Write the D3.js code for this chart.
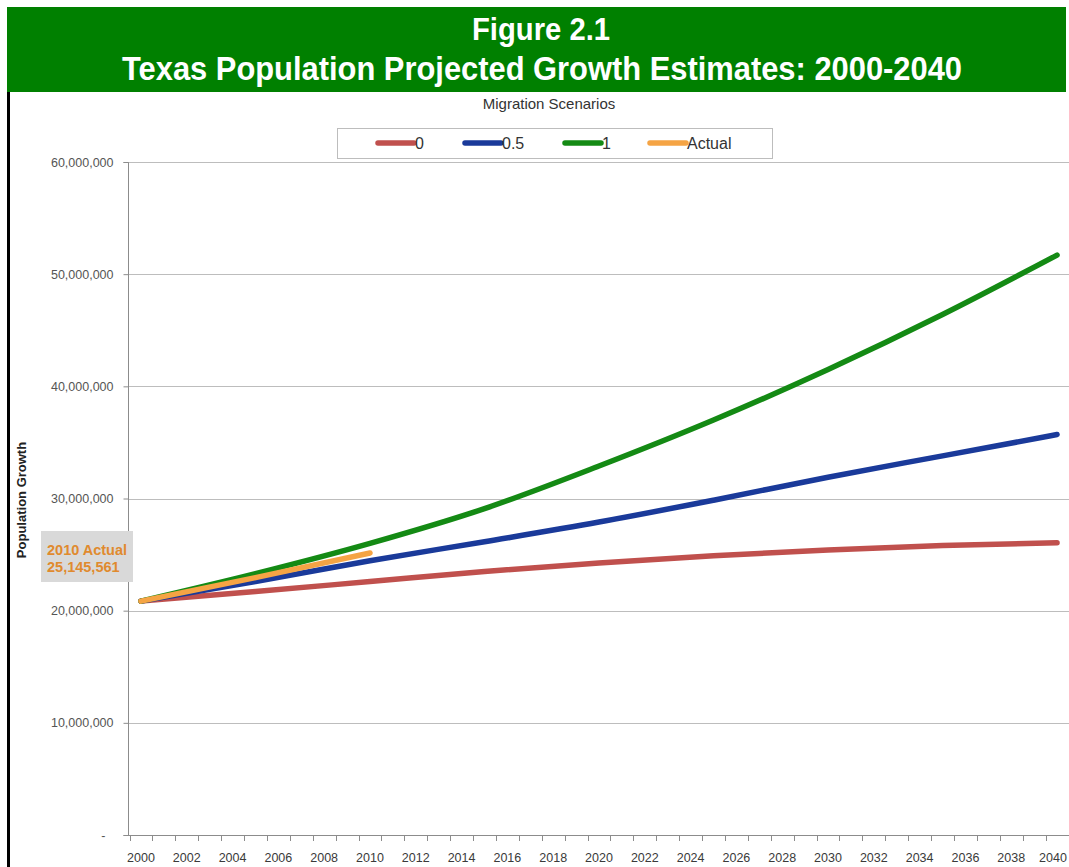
<!DOCTYPE html>
<html>
<head>
<meta charset="utf-8">
<script src="https://cdn.jsdelivr.net/npm/d3@7"></script>
<style>
  html, body { margin: 0; padding: 0; background: #fff; }
  svg { display: block; font-family: "Liberation Sans", Arial, sans-serif; }
</style>
</head>
<body>
<svg id="chart" width="1069" height="867"></svg>
<script>
// ---- Data ----
const years = d3.range(2000, 2041);              // category axis
const dataYears = [2000, 2005, 2010, 2015, 2020, 2025, 2030, 2035, 2040];
const scenario0  = [20851820, 21700000, 22600000, 23500000, 24250000, 24900000, 25400000, 25800000, 26050000];
const scenario05 = [20851820, 22600000, 24450000, 26150000, 27900000, 29850000, 31900000, 33800000, 35700000];
const scenario1  = [20851820, 23300000, 26000000, 29100000, 32900000, 37000000, 41500000, 46400000, 51700000];
const actualYears = [2000, 2005, 2010];
const actualValues = [20851820, 22950000, 25145561];
const yTicks = [0, 10000000, 20000000, 30000000, 40000000, 50000000, 60000000];
const xTickLabels = d3.range(2000, 2041, 2);
const seriesNames = ["0", "0.5", "1", "Actual"];
const seriesColors = ["#C0504D", "#1A3A9A", "#148A14", "#F5A444"];

const svg = d3.select("#chart");

// ---- Header ----
svg.append("rect").attr("x", 7).attr("y", 7).attr("width", 1059).attr("height", 85).attr("fill", "#008000");
svg.append("text").attr("x", 541).attr("y", 40).attr("text-anchor", "middle")
  .attr("fill", "#fff").attr("font-weight", "bold").attr("font-size", 31)
  .attr("textLength", 138).attr("lengthAdjust", "spacingAndGlyphs").text("Figure 2.1");
svg.append("text").attr("x", 542).attr("y", 80).attr("text-anchor", "middle")
  .attr("fill", "#fff").attr("font-weight", "bold").attr("font-size", 33)
  .attr("textLength", 840).attr("lengthAdjust", "spacingAndGlyphs")
  .text("Texas Population Projected Growth Estimates: 2000-2040");
// left border
svg.append("rect").attr("x", 7).attr("y", 92).attr("width", 3).attr("height", 775).attr("fill", "#000");

// ---- Scales ----
const x = d3.scaleBand().domain(years).range([129.5, 1068.5]).paddingInner(0).paddingOuter(0);
const xc = yr => x(yr) + x.bandwidth() / 2;
const y = d3.scaleLinear().domain([0, 60000000]).range([835, 162]);

// ---- Gridlines ----
svg.append("g").selectAll("line").data(yTicks.filter(d => d > 0)).join("line")
  .attr("x1", 128).attr("x2", 1069)
  .attr("y1", d => Math.round(y(d)) + 0.5).attr("y2", d => Math.round(y(d)) + 0.5)
  .attr("stroke", "#BDBDBD").attr("stroke-width", 1);

// ---- Y axis ----
const yAxis = d3.axisLeft(y).tickValues(yTicks).tickSize(5).tickPadding(10)
  .tickFormat(d => d === 0 ? "-" : d3.format(",")(d));
const gy = svg.append("g").attr("transform", "translate(128.5,0)").call(yAxis);
gy.select(".domain").attr("stroke", "#8C8C8C").attr("d", "M-5,162.5H0V835.5H-5");
gy.selectAll(".tick line").attr("stroke", "#8C8C8C");
gy.selectAll(".tick text").attr("font-size", 12.5).attr("fill", "#555")
  .attr("font-family", "Liberation Sans, Arial, sans-serif");
gy.selectAll(".tick").filter(d => d === 0).select("text").attr("dx", -8);

// ---- X axis ----
const gx = svg.append("g");
gx.append("line").attr("x1", 128).attr("x2", 1069).attr("y1", 835.5).attr("y2", 835.5).attr("stroke", "#8C8C8C");
gx.selectAll("line.tk").data(years).join("line").attr("class", "tk")
  .attr("x1", d => Math.round(x(d)) + 0.5).attr("x2", d => Math.round(x(d)) + 0.5)
  .attr("y1", 835).attr("y2", 841).attr("stroke", "#8C8C8C");
gx.selectAll("text").data(xTickLabels).join("text")
  .attr("x", d => Math.min(xc(d), 1053)).attr("y", 862).attr("text-anchor", "middle")
  .attr("font-size", 12.5).attr("fill", "#3a3a3a").text(d => d);

// ---- Axis title ----
svg.append("text").attr("transform", "translate(26,500) rotate(-90)").attr("text-anchor", "middle")
  .attr("font-size", 13).attr("font-weight", "bold").attr("fill", "#222").text("Population Growth");

// ---- Lines ----
const line = d3.line().x(d => xc(d[0])).y(d => y(d[1])).curve(d3.curveMonotoneX);
const series = [
  dataYears.map((yr, i) => [yr, scenario0[i]]),
  dataYears.map((yr, i) => [yr, scenario05[i]]),
  dataYears.map((yr, i) => [yr, scenario1[i]]),
  actualYears.map((yr, i) => [yr, actualValues[i]])
];
svg.append("g").selectAll("path").data(series).join("path")
  .attr("d", line).attr("fill", "none")
  .attr("stroke", (d, i) => seriesColors[i]).attr("stroke-width", 5.5)
  .attr("stroke-linecap", "round").attr("stroke-linejoin", "round");

// ---- Annotation ----
svg.append("rect").attr("x", 41).attr("y", 531).attr("width", 92).attr("height", 51).attr("fill", "#D9D9D9");
svg.append("text").attr("x", 47).attr("y", 555).attr("font-size", 14.5).attr("font-weight", "bold")
  .attr("fill", "#E08A2E").text("2010 Actual");
svg.append("text").attr("x", 47).attr("y", 572).attr("font-size", 14.5).attr("font-weight", "bold")
  .attr("fill", "#E08A2E").text(d3.format(",")(actualValues[actualValues.length - 1]));

// ---- Legend ----
svg.append("text").attr("x", 549).attr("y", 109).attr("text-anchor", "middle")
  .attr("font-size", 15).attr("fill", "#333").text("Migration Scenarios");
svg.append("rect").attr("x", 337.5).attr("y", 128.5).attr("width", 435).attr("height", 30)
  .attr("fill", "#fff").attr("stroke", "#BDBDBD");
const legX = [378, 465, 565, 650];
const lg = svg.append("g").selectAll("g").data(seriesNames).join("g");
lg.append("line").attr("x1", (d, i) => legX[i]).attr("x2", (d, i) => legX[i] + 36)
  .attr("y1", 143).attr("y2", 143).attr("stroke", (d, i) => seriesColors[i])
  .attr("stroke-width", 5.5).attr("stroke-linecap", "round");
lg.append("text").attr("x", (d, i) => legX[i] + 37).attr("y", 149)
  .attr("font-size", 16).attr("fill", "#333").text(d => d);
</script>
</body>
</html>
